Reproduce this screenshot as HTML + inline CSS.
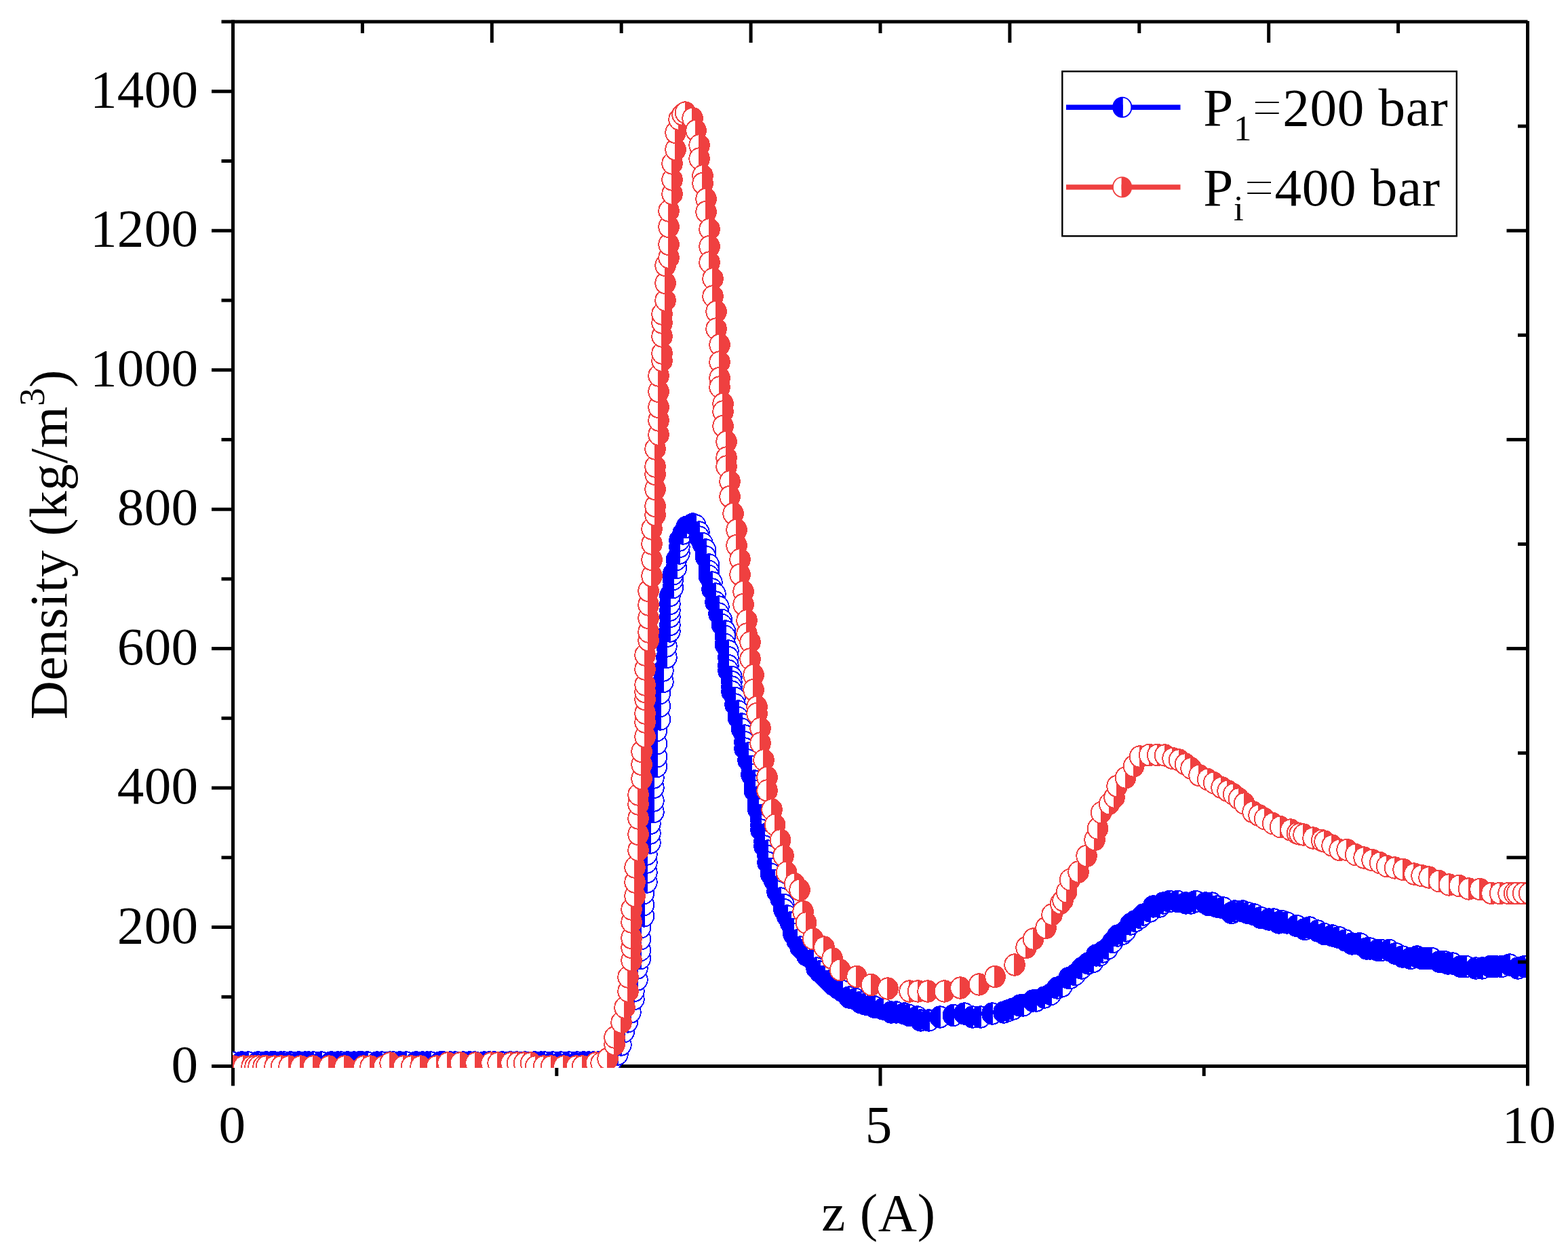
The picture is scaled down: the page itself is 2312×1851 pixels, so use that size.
<!DOCTYPE html>
<html lang="en"><head><meta charset="utf-8"><title>Density profile</title>
<style>
html,body{margin:0;padding:0;background:#fff;}
body{width:2312px;height:1851px;overflow:hidden;}
svg{display:block;}
text{font-family:"Liberation Serif",serif;fill:#000;}
</style></head><body>
<svg width="2312" height="1851" viewBox="0 0 2312 1851">
<defs>
<clipPath id="clip"><rect x="343" y="0" width="1907" height="1575"/></clipPath>
<g id="mr"><path d="M0,-14.66 A13.75,14.7 0 0 0 0,14.66 Z" fill="#fff"/><path fill="#ef4040" fill-rule="evenodd" d="M-14.7,0 a15.75,16.7 0 1 0 31.5,0 a15.75,16.7 0 1 0 -31.5,0 Z M0,-14.66 A13.75,14.7 0 0 0 0,14.66 Z"/></g>
<g id="mb"><path d="M0,-14.66 A13.75,14.7 0 0 1 0,14.66 Z" fill="#fff"/><path fill="#0000ff" fill-rule="evenodd" d="M-16.8,0 a15.75,16.7 0 1 0 31.5,0 a15.75,16.7 0 1 0 -31.5,0 Z M0,-14.66 A13.75,14.7 0 0 1 0,14.66 Z"/></g>
</defs>
<rect width="2312" height="1851" fill="#fff"/>

<g stroke="#000" stroke-width="5" fill="none" stroke-linecap="butt">
<line x1="343.5" y1="29.5" x2="343.5" y2="1601.6"/>
<line x1="312.0" y1="1572.6" x2="2252.5" y2="1572.6"/>
<line x1="326.5" y1="1470.3" x2="343.5" y2="1470.3"/>
<line x1="312.0" y1="1367.5" x2="343.5" y2="1367.5"/>
<line x1="326.5" y1="1264.8" x2="343.5" y2="1264.8"/>
<line x1="312.0" y1="1162.1" x2="343.5" y2="1162.1"/>
<line x1="326.5" y1="1059.3" x2="343.5" y2="1059.3"/>
<line x1="312.0" y1="956.6" x2="343.5" y2="956.6"/>
<line x1="326.5" y1="853.9" x2="343.5" y2="853.9"/>
<line x1="312.0" y1="751.2" x2="343.5" y2="751.2"/>
<line x1="326.5" y1="648.4" x2="343.5" y2="648.4"/>
<line x1="312.0" y1="545.7" x2="343.5" y2="545.7"/>
<line x1="326.5" y1="443.0" x2="343.5" y2="443.0"/>
<line x1="312.0" y1="340.2" x2="343.5" y2="340.2"/>
<line x1="326.5" y1="237.5" x2="343.5" y2="237.5"/>
<line x1="312.0" y1="134.8" x2="343.5" y2="134.8"/>
<line x1="820.8" y1="1572.6" x2="820.8" y2="1587.1"/>
<line x1="1298.0" y1="1572.6" x2="1298.0" y2="1601.6"/>
<line x1="1775.2" y1="1572.6" x2="1775.2" y2="1587.1"/>
</g>
<g font-size="79.17" text-anchor="end">
<text x="292.5" y="1596.2" letter-spacing="0.3">0</text>
<text x="292.5" y="1390.7" letter-spacing="0.3">200</text>
<text x="292.5" y="1185.3" letter-spacing="0.3">400</text>
<text x="292.5" y="979.8" letter-spacing="0.3">600</text>
<text x="292.5" y="774.4" letter-spacing="0.3">800</text>
<text x="292.5" y="568.9" letter-spacing="0.3">1000</text>
<text x="292.5" y="363.4" letter-spacing="0.3">1200</text>
<text x="292.5" y="158.0" letter-spacing="0.3">1400</text>
</g>
<g font-size="79.17" text-anchor="middle">
<text x="342.2" y="1684.8">0</text>
<text x="1295.6" y="1684.8">5</text>
<text x="2254.4" y="1684.8">10</text>
</g>
<text font-size="79.17" text-anchor="middle" x="1295.6" y="1815" letter-spacing="0.8">z (A)</text>
<text font-size="79.17" text-anchor="middle" letter-spacing="0.55" transform="translate(98.3,803) rotate(-90)">Density (kg/m<tspan font-size="53" dy="-33">3</tspan><tspan dy="33">)</tspan></text>
<g clip-path="url(#clip)" shape-rendering="crispEdges">
<use href="#mb" x="343" y="1567"/>
<use href="#mb" x="357.5" y="1567"/>
<use href="#mb" x="367" y="1567"/>
<use href="#mb" x="381.5" y="1567"/>
<use href="#mb" x="393.5" y="1567"/>
<use href="#mb" x="401" y="1567"/>
<use href="#mb" x="405.5" y="1567"/>
<use href="#mb" x="415" y="1567"/>
<use href="#mb" x="420" y="1567"/>
<use href="#mb" x="429.5" y="1567"/>
<use href="#mb" x="441.5" y="1567"/>
<use href="#mb" x="451" y="1567"/>
<use href="#mb" x="456" y="1567"/>
<use href="#mb" x="463" y="1567"/>
<use href="#mb" x="475" y="1567"/>
<use href="#mb" x="489.5" y="1567"/>
<use href="#mb" x="499" y="1567"/>
<use href="#mb" x="504" y="1567"/>
<use href="#mb" x="513.5" y="1567"/>
<use href="#mb" x="523" y="1567"/>
<use href="#mb" x="530.5" y="1567"/>
<use href="#mb" x="535" y="1567"/>
<use href="#mb" x="542.5" y="1567"/>
<use href="#mb" x="557" y="1567"/>
<use href="#mb" x="564" y="1567"/>
<use href="#mb" x="576" y="1567"/>
<use href="#mb" x="581" y="1567"/>
<use href="#mb" x="590.5" y="1567"/>
<use href="#mb" x="600" y="1567"/>
<use href="#mb" x="614.5" y="1567"/>
<use href="#mb" x="624" y="1567"/>
<use href="#mb" x="631" y="1567"/>
<use href="#mb" x="636" y="1567"/>
<use href="#mb" x="650.5" y="1567"/>
<use href="#mb" x="655" y="1567"/>
<use href="#mb" x="665" y="1567"/>
<use href="#mb" x="672" y="1567"/>
<use href="#mb" x="684" y="1567"/>
<use href="#mb" x="693.5" y="1567"/>
<use href="#mb" x="701" y="1567"/>
<use href="#mb" x="715" y="1567"/>
<use href="#mb" x="722.5" y="1567"/>
<use href="#mb" x="729.5" y="1567"/>
<use href="#mb" x="741.5" y="1567"/>
<use href="#mb" x="753.5" y="1567"/>
<use href="#mb" x="763" y="1567"/>
<use href="#mb" x="775" y="1567"/>
<use href="#mb" x="789.5" y="1567"/>
<use href="#mb" x="799" y="1567"/>
<use href="#mb" x="804" y="1567"/>
<use href="#mb" x="816" y="1567"/>
<use href="#mb" x="828" y="1567"/>
<use href="#mb" x="840" y="1567"/>
<use href="#mb" x="852" y="1567"/>
<use href="#mb" x="861.5" y="1567"/>
<use href="#mb" x="869" y="1567"/>
<use href="#mb" x="876" y="1567"/>
<use href="#mb" x="883" y="1567"/>
<use href="#mb" x="893" y="1567"/>
<use href="#mb" x="902.5" y="1565"/>
<use href="#mb" x="912" y="1555"/>
<use href="#mb" x="917" y="1541"/>
<use href="#mb" x="921.5" y="1521.5"/>
<use href="#mb" x="926.5" y="1507"/>
<use href="#mb" x="931" y="1493"/>
<use href="#mb" x="936" y="1473.5"/>
<use href="#mb" x="936" y="1461.5"/>
<use href="#mb" x="941" y="1445"/>
<use href="#mb" x="941" y="1428"/>
<use href="#mb" x="945.5" y="1413.5"/>
<use href="#mb" x="945.5" y="1401.5"/>
<use href="#mb" x="945.5" y="1385"/>
<use href="#mb" x="945.5" y="1368"/>
<use href="#mb" x="950.5" y="1351"/>
<use href="#mb" x="950.5" y="1334.5"/>
<use href="#mb" x="950.5" y="1317.5"/>
<use href="#mb" x="955" y="1301"/>
<use href="#mb" x="955" y="1286.5"/>
<use href="#mb" x="955" y="1272"/>
<use href="#mb" x="955" y="1260"/>
<use href="#mb" x="960" y="1243"/>
<use href="#mb" x="960" y="1229"/>
<use href="#mb" x="960" y="1214.5"/>
<use href="#mb" x="965" y="1197.5"/>
<use href="#mb" x="965" y="1181"/>
<use href="#mb" x="965" y="1161.5"/>
<use href="#mb" x="965" y="1147"/>
<use href="#mb" x="969.5" y="1130.5"/>
<use href="#mb" x="969.5" y="1116"/>
<use href="#mb" x="969.5" y="1097"/>
<use href="#mb" x="969.5" y="1077.5"/>
<use href="#mb" x="974.5" y="1061"/>
<use href="#mb" x="974.5" y="1041.5"/>
<use href="#mb" x="974.5" y="1022.5"/>
<use href="#mb" x="979" y="1005.5"/>
<use href="#mb" x="979" y="989"/>
<use href="#mb" x="984" y="969.5"/>
<use href="#mb" x="984" y="953"/>
<use href="#mb" x="984" y="938.5"/>
<use href="#mb" x="989" y="931"/>
<use href="#mb" x="989" y="921.5"/>
<use href="#mb" x="989" y="909.5"/>
<use href="#mb" x="989" y="900"/>
<use href="#mb" x="989" y="890.5"/>
<use href="#mb" x="989" y="878.5"/>
<use href="#mb" x="993.5" y="866.5"/>
<use href="#mb" x="993.5" y="854.5"/>
<use href="#mb" x="993.5" y="847"/>
<use href="#mb" x="998.5" y="837.5"/>
<use href="#mb" x="998.5" y="825.5"/>
<use href="#mb" x="1003" y="816"/>
<use href="#mb" x="1003" y="806.5"/>
<use href="#mb" x="1003" y="797"/>
<use href="#mb" x="1008" y="787"/>
<use href="#mb" x="1013" y="777.5"/>
<use href="#mb" x="1022.5" y="773"/>
<use href="#mb" x="1027" y="775"/>
<use href="#mb" x="1032" y="785"/>
<use href="#mb" x="1032" y="792"/>
<use href="#mb" x="1037" y="801.5"/>
<use href="#mb" x="1041.5" y="811"/>
<use href="#mb" x="1041.5" y="821"/>
<use href="#mb" x="1046.5" y="833"/>
<use href="#mb" x="1046.5" y="842.5"/>
<use href="#mb" x="1046.5" y="849.5"/>
<use href="#mb" x="1051" y="859"/>
<use href="#mb" x="1051" y="869"/>
<use href="#mb" x="1056" y="876"/>
<use href="#mb" x="1056" y="888"/>
<use href="#mb" x="1061" y="895"/>
<use href="#mb" x="1061" y="905"/>
<use href="#mb" x="1065.5" y="914.5"/>
<use href="#mb" x="1065.5" y="921.5"/>
<use href="#mb" x="1070.5" y="931"/>
<use href="#mb" x="1070.5" y="938.5"/>
<use href="#mb" x="1070.5" y="950.5"/>
<use href="#mb" x="1075" y="960"/>
<use href="#mb" x="1075" y="969.5"/>
<use href="#mb" x="1075" y="981.5"/>
<use href="#mb" x="1075" y="989"/>
<use href="#mb" x="1080" y="998.5"/>
<use href="#mb" x="1080" y="1005.5"/>
<use href="#mb" x="1080" y="1013"/>
<use href="#mb" x="1080" y="1020"/>
<use href="#mb" x="1085" y="1029.5"/>
<use href="#mb" x="1085" y="1039"/>
<use href="#mb" x="1089.5" y="1049"/>
<use href="#mb" x="1089.5" y="1058.5"/>
<use href="#mb" x="1094.5" y="1068"/>
<use href="#mb" x="1094.5" y="1075"/>
<use href="#mb" x="1099" y="1085"/>
<use href="#mb" x="1099" y="1094.5"/>
<use href="#mb" x="1099" y="1104"/>
<use href="#mb" x="1104" y="1111"/>
<use href="#mb" x="1104" y="1121"/>
<use href="#mb" x="1109" y="1130.5"/>
<use href="#mb" x="1109" y="1142.5"/>
<use href="#mb" x="1113.5" y="1152"/>
<use href="#mb" x="1113.5" y="1159"/>
<use href="#mb" x="1113.5" y="1166.5"/>
<use href="#mb" x="1118.5" y="1176"/>
<use href="#mb" x="1118.5" y="1185.5"/>
<use href="#mb" x="1118.5" y="1193"/>
<use href="#mb" x="1123" y="1202.5"/>
<use href="#mb" x="1123" y="1209.5"/>
<use href="#mb" x="1123" y="1217"/>
<use href="#mb" x="1123" y="1224"/>
<use href="#mb" x="1128" y="1231"/>
<use href="#mb" x="1128" y="1241"/>
<use href="#mb" x="1128" y="1248"/>
<use href="#mb" x="1133" y="1255"/>
<use href="#mb" x="1133" y="1262.5"/>
<use href="#mb" x="1133" y="1272"/>
<use href="#mb" x="1137.5" y="1281.5"/>
<use href="#mb" x="1137.5" y="1289"/>
<use href="#mb" x="1142.5" y="1298.5"/>
<use href="#mb" x="1147" y="1308"/>
<use href="#mb" x="1147" y="1315"/>
<use href="#mb" x="1152" y="1325"/>
<use href="#mb" x="1157" y="1334.5"/>
<use href="#mb" x="1157" y="1341.5"/>
<use href="#mb" x="1161.5" y="1351"/>
<use href="#mb" x="1166.5" y="1361"/>
<use href="#mb" x="1171" y="1370.5"/>
<use href="#mb" x="1171" y="1377.5"/>
<use href="#mb" x="1176" y="1387"/>
<use href="#mb" x="1181" y="1397"/>
<use href="#mb" x="1185.5" y="1401.5"/>
<use href="#mb" x="1190.5" y="1409"/>
<use href="#mb" x="1200" y="1416"/>
<use href="#mb" x="1205" y="1428"/>
<use href="#mb" x="1209.5" y="1433"/>
<use href="#mb" x="1217" y="1440"/>
<use href="#mb" x="1224" y="1447"/>
<use href="#mb" x="1229" y="1452"/>
<use href="#mb" x="1236" y="1457"/>
<use href="#mb" x="1243" y="1461.5"/>
<use href="#mb" x="1253" y="1471"/>
<use href="#mb" x="1262.5" y="1473.5"/>
<use href="#mb" x="1269.5" y="1478.5"/>
<use href="#mb" x="1277" y="1481"/>
<use href="#mb" x="1286.5" y="1483"/>
<use href="#mb" x="1291" y="1485.5"/>
<use href="#mb" x="1303" y="1488"/>
<use href="#mb" x="1315" y="1493"/>
<use href="#mb" x="1322.5" y="1493"/>
<use href="#mb" x="1334.5" y="1495"/>
<use href="#mb" x="1341.5" y="1497.5"/>
<use href="#mb" x="1353.5" y="1500"/>
<use href="#mb" x="1358.5" y="1505"/>
<use href="#mb" x="1370.5" y="1505"/>
<use href="#mb" x="1387" y="1500"/>
<use href="#mb" x="1406.5" y="1497.5"/>
<use href="#mb" x="1423" y="1495"/>
<use href="#mb" x="1435" y="1500"/>
<use href="#mb" x="1447" y="1500"/>
<use href="#mb" x="1464" y="1495"/>
<use href="#mb" x="1481" y="1493"/>
<use href="#mb" x="1488" y="1490.5"/>
<use href="#mb" x="1495" y="1488"/>
<use href="#mb" x="1505" y="1483"/>
<use href="#mb" x="1509.5" y="1483"/>
<use href="#mb" x="1524" y="1476"/>
<use href="#mb" x="1529" y="1476"/>
<use href="#mb" x="1541" y="1471"/>
<use href="#mb" x="1550.5" y="1466.5"/>
<use href="#mb" x="1560" y="1457"/>
<use href="#mb" x="1567" y="1454.5"/>
<use href="#mb" x="1577" y="1442.5"/>
<use href="#mb" x="1579" y="1442.5"/>
<use href="#mb" x="1586.5" y="1437.5"/>
<use href="#mb" x="1596" y="1428"/>
<use href="#mb" x="1605.5" y="1421"/>
<use href="#mb" x="1613" y="1418.5"/>
<use href="#mb" x="1617.5" y="1409"/>
<use href="#mb" x="1622.5" y="1409"/>
<use href="#mb" x="1627" y="1404"/>
<use href="#mb" x="1634.5" y="1399"/>
<use href="#mb" x="1641.5" y="1389.5"/>
<use href="#mb" x="1649" y="1380"/>
<use href="#mb" x="1656" y="1377.5"/>
<use href="#mb" x="1661" y="1373"/>
<use href="#mb" x="1668" y="1363"/>
<use href="#mb" x="1675" y="1358.5"/>
<use href="#mb" x="1682.5" y="1353.5"/>
<use href="#mb" x="1687" y="1349"/>
<use href="#mb" x="1697" y="1344"/>
<use href="#mb" x="1701.5" y="1337"/>
<use href="#mb" x="1711" y="1337"/>
<use href="#mb" x="1716" y="1332"/>
<use href="#mb" x="1725.5" y="1329.5"/>
<use href="#mb" x="1737.5" y="1329.5"/>
<use href="#mb" x="1749.5" y="1332"/>
<use href="#mb" x="1757" y="1332"/>
<use href="#mb" x="1764" y="1329.5"/>
<use href="#mb" x="1778.5" y="1332"/>
<use href="#mb" x="1783" y="1334.5"/>
<use href="#mb" x="1788" y="1332"/>
<use href="#mb" x="1795" y="1337"/>
<use href="#mb" x="1805" y="1339"/>
<use href="#mb" x="1817" y="1346.5"/>
<use href="#mb" x="1821.5" y="1344"/>
<use href="#mb" x="1833.5" y="1344"/>
<use href="#mb" x="1841" y="1346.5"/>
<use href="#mb" x="1850.5" y="1349"/>
<use href="#mb" x="1860" y="1353.5"/>
<use href="#mb" x="1872" y="1356"/>
<use href="#mb" x="1879" y="1356"/>
<use href="#mb" x="1886.5" y="1361"/>
<use href="#mb" x="1891" y="1358.5"/>
<use href="#mb" x="1898.5" y="1361"/>
<use href="#mb" x="1913" y="1365.5"/>
<use href="#mb" x="1925" y="1370.5"/>
<use href="#mb" x="1932" y="1368"/>
<use href="#mb" x="1944" y="1373"/>
<use href="#mb" x="1953.5" y="1377.5"/>
<use href="#mb" x="1965.5" y="1380"/>
<use href="#mb" x="1975" y="1382.5"/>
<use href="#mb" x="1985" y="1387"/>
<use href="#mb" x="1994.5" y="1392"/>
<use href="#mb" x="2004" y="1392"/>
<use href="#mb" x="2006.5" y="1392"/>
<use href="#mb" x="2016" y="1399"/>
<use href="#mb" x="2021" y="1399"/>
<use href="#mb" x="2033" y="1401.5"/>
<use href="#mb" x="2037.5" y="1401.5"/>
<use href="#mb" x="2049.5" y="1401.5"/>
<use href="#mb" x="2059" y="1406.5"/>
<use href="#mb" x="2069" y="1411"/>
<use href="#mb" x="2081" y="1413.5"/>
<use href="#mb" x="2090.5" y="1411"/>
<use href="#mb" x="2097.5" y="1413.5"/>
<use href="#mb" x="2105" y="1413.5"/>
<use href="#mb" x="2112" y="1413.5"/>
<use href="#mb" x="2124" y="1418.5"/>
<use href="#mb" x="2131" y="1418.5"/>
<use href="#mb" x="2136" y="1421"/>
<use href="#mb" x="2143" y="1421"/>
<use href="#mb" x="2155" y="1425.5"/>
<use href="#mb" x="2162.5" y="1425.5"/>
<use href="#mb" x="2177" y="1428"/>
<use href="#mb" x="2186.5" y="1428"/>
<use href="#mb" x="2198.5" y="1425.5"/>
<use href="#mb" x="2205.5" y="1425.5"/>
<use href="#mb" x="2215" y="1425.5"/>
<use href="#mb" x="2227" y="1423"/>
<use href="#mb" x="2239" y="1428"/>
<use href="#mb" x="2249" y="1425.5"/>
<use href="#mb" x="2258.5" y="1428"/>
<use href="#mr" x="342.5" y="1573"/>
<use href="#mr" x="358" y="1573"/>
<use href="#mr" x="370" y="1573"/>
<use href="#mr" x="375" y="1573"/>
<use href="#mr" x="380" y="1573"/>
<use href="#mr" x="387" y="1573"/>
<use href="#mr" x="391.5" y="1573"/>
<use href="#mr" x="404" y="1573"/>
<use href="#mr" x="413.5" y="1573"/>
<use href="#mr" x="425" y="1573"/>
<use href="#mr" x="442" y="1573"/>
<use href="#mr" x="460.5" y="1573"/>
<use href="#mr" x="484" y="1573"/>
<use href="#mr" x="507" y="1573"/>
<use href="#mr" x="535" y="1573"/>
<use href="#mr" x="545" y="1573"/>
<use href="#mr" x="564.5" y="1573"/>
<use href="#mr" x="574" y="1568"/>
<use href="#mr" x="593.5" y="1573"/>
<use href="#mr" x="605.5" y="1573"/>
<use href="#mr" x="619" y="1573"/>
<use href="#mr" x="642.5" y="1573"/>
<use href="#mr" x="659" y="1568"/>
<use href="#mr" x="677.5" y="1568"/>
<use href="#mr" x="700" y="1568"/>
<use href="#mr" x="723" y="1568"/>
<use href="#mr" x="733" y="1568"/>
<use href="#mr" x="752" y="1568"/>
<use href="#mr" x="761.5" y="1568"/>
<use href="#mr" x="771.5" y="1568"/>
<use href="#mr" x="781.5" y="1568"/>
<use href="#mr" x="788.5" y="1573"/>
<use href="#mr" x="800.5" y="1573"/>
<use href="#mr" x="811.5" y="1573"/>
<use href="#mr" x="830" y="1573"/>
<use href="#mr" x="848.5" y="1573"/>
<use href="#mr" x="857.5" y="1573"/>
<use href="#mr" x="877.5" y="1568"/>
<use href="#mr" x="885" y="1568"/>
<use href="#mr" x="895" y="1561.5"/>
<use href="#mr" x="905" y="1540.5"/>
<use href="#mr" x="905" y="1530"/>
<use href="#mr" x="915" y="1508"/>
<use href="#mr" x="920" y="1486"/>
<use href="#mr" x="925" y="1462"/>
<use href="#mr" x="925" y="1441"/>
<use href="#mr" x="930" y="1416.5"/>
<use href="#mr" x="930" y="1397.5"/>
<use href="#mr" x="930" y="1383.5"/>
<use href="#mr" x="930" y="1360"/>
<use href="#mr" x="930" y="1341"/>
<use href="#mr" x="935" y="1321.5"/>
<use href="#mr" x="935" y="1301"/>
<use href="#mr" x="935" y="1279"/>
<use href="#mr" x="940" y="1254"/>
<use href="#mr" x="940" y="1230.5"/>
<use href="#mr" x="940" y="1207"/>
<use href="#mr" x="940" y="1186"/>
<use href="#mr" x="940" y="1172"/>
<use href="#mr" x="945" y="1148.5"/>
<use href="#mr" x="945" y="1127.5"/>
<use href="#mr" x="945" y="1108.5"/>
<use href="#mr" x="950" y="1086.5"/>
<use href="#mr" x="950" y="1065"/>
<use href="#mr" x="950" y="1052"/>
<use href="#mr" x="950" y="1031.5"/>
<use href="#mr" x="950" y="1020.5"/>
<use href="#mr" x="950" y="1010"/>
<use href="#mr" x="950" y="987"/>
<use href="#mr" x="950" y="966"/>
<use href="#mr" x="955" y="944.5"/>
<use href="#mr" x="955" y="932"/>
<use href="#mr" x="955" y="911.5"/>
<use href="#mr" x="955" y="892"/>
<use href="#mr" x="955" y="871.5"/>
<use href="#mr" x="960" y="849.5"/>
<use href="#mr" x="960" y="825.5"/>
<use href="#mr" x="960" y="802"/>
<use href="#mr" x="960" y="780"/>
<use href="#mr" x="965" y="759.5"/>
<use href="#mr" x="965" y="746.5"/>
<use href="#mr" x="965" y="721.5"/>
<use href="#mr" x="965" y="699.5"/>
<use href="#mr" x="965" y="688"/>
<use href="#mr" x="965" y="662"/>
<use href="#mr" x="970" y="641"/>
<use href="#mr" x="970" y="620"/>
<use href="#mr" x="970" y="600.5"/>
<use href="#mr" x="970" y="577.5"/>
<use href="#mr" x="970" y="554"/>
<use href="#mr" x="975" y="532"/>
<use href="#mr" x="975" y="521"/>
<use href="#mr" x="975" y="496"/>
<use href="#mr" x="975" y="476"/>
<use href="#mr" x="975" y="463"/>
<use href="#mr" x="980" y="443"/>
<use href="#mr" x="980" y="417.5"/>
<use href="#mr" x="980" y="391.5"/>
<use href="#mr" x="985" y="380"/>
<use href="#mr" x="985" y="360.5"/>
<use href="#mr" x="985" y="334.5"/>
<use href="#mr" x="985" y="311"/>
<use href="#mr" x="990" y="286"/>
<use href="#mr" x="990" y="265"/>
<use href="#mr" x="990" y="241"/>
<use href="#mr" x="995" y="220.5"/>
<use href="#mr" x="995" y="195.5"/>
<use href="#mr" x="1000" y="176"/>
<use href="#mr" x="1005" y="169"/>
<use href="#mr" x="1009.5" y="166"/>
<use href="#mr" x="1020" y="174.5"/>
<use href="#mr" x="1025" y="192.5"/>
<use href="#mr" x="1030" y="214"/>
<use href="#mr" x="1030" y="234"/>
<use href="#mr" x="1035" y="259"/>
<use href="#mr" x="1035" y="270.5"/>
<use href="#mr" x="1040" y="293.5"/>
<use href="#mr" x="1040" y="312.5"/>
<use href="#mr" x="1045" y="338"/>
<use href="#mr" x="1045" y="363.5"/>
<use href="#mr" x="1045" y="387"/>
<use href="#mr" x="1050" y="411"/>
<use href="#mr" x="1050" y="437"/>
<use href="#mr" x="1055" y="459.5"/>
<use href="#mr" x="1055" y="485"/>
<use href="#mr" x="1060" y="508.5"/>
<use href="#mr" x="1060" y="534"/>
<use href="#mr" x="1060" y="557.5"/>
<use href="#mr" x="1060" y="571"/>
<use href="#mr" x="1065" y="595.5"/>
<use href="#mr" x="1065" y="607"/>
<use href="#mr" x="1065" y="628.5"/>
<use href="#mr" x="1070" y="651.5"/>
<use href="#mr" x="1070" y="675"/>
<use href="#mr" x="1070" y="688"/>
<use href="#mr" x="1075" y="710"/>
<use href="#mr" x="1075" y="732.5"/>
<use href="#mr" x="1080" y="757.5"/>
<use href="#mr" x="1085" y="781.5"/>
<use href="#mr" x="1085" y="804.5"/>
<use href="#mr" x="1090" y="825"/>
<use href="#mr" x="1090" y="847.5"/>
<use href="#mr" x="1095" y="872.5"/>
<use href="#mr" x="1095" y="891.5"/>
<use href="#mr" x="1100" y="915"/>
<use href="#mr" x="1100" y="935"/>
<use href="#mr" x="1105" y="947"/>
<use href="#mr" x="1105" y="972"/>
<use href="#mr" x="1110" y="995.5"/>
<use href="#mr" x="1110" y="1017.5"/>
<use href="#mr" x="1115" y="1042.5"/>
<use href="#mr" x="1115" y="1052.5"/>
<use href="#mr" x="1120" y="1074"/>
<use href="#mr" x="1120" y="1096"/>
<use href="#mr" x="1125" y="1121"/>
<use href="#mr" x="1130" y="1146.5"/>
<use href="#mr" x="1130" y="1166"/>
<use href="#mr" x="1137" y="1194"/>
<use href="#mr" x="1141.5" y="1216.5"/>
<use href="#mr" x="1149.5" y="1239"/>
<use href="#mr" x="1154" y="1262"/>
<use href="#mr" x="1158.5" y="1286.5"/>
<use href="#mr" x="1170.5" y="1303.5"/>
<use href="#mr" x="1178" y="1312.5"/>
<use href="#mr" x="1183" y="1344.5"/>
<use href="#mr" x="1187.5" y="1361"/>
<use href="#mr" x="1197.5" y="1384.5"/>
<use href="#mr" x="1214" y="1397"/>
<use href="#mr" x="1226" y="1413.5"/>
<use href="#mr" x="1237.5" y="1430.5"/>
<use href="#mr" x="1262" y="1440.5"/>
<use href="#mr" x="1283.5" y="1452.5"/>
<use href="#mr" x="1308" y="1458"/>
<use href="#mr" x="1340" y="1462"/>
<use href="#mr" x="1352.5" y="1462"/>
<use href="#mr" x="1367" y="1462"/>
<use href="#mr" x="1391.5" y="1462"/>
<use href="#mr" x="1415" y="1457"/>
<use href="#mr" x="1442.5" y="1452"/>
<use href="#mr" x="1466" y="1440.5"/>
<use href="#mr" x="1495" y="1423"/>
<use href="#mr" x="1512" y="1397.5"/>
<use href="#mr" x="1522.5" y="1385"/>
<use href="#mr" x="1541" y="1368.5"/>
<use href="#mr" x="1550" y="1349"/>
<use href="#mr" x="1562.5" y="1332.5"/>
<use href="#mr" x="1566" y="1328"/>
<use href="#mr" x="1571.5" y="1315.5"/>
<use href="#mr" x="1576.5" y="1297.5"/>
<use href="#mr" x="1589" y="1286"/>
<use href="#mr" x="1601" y="1262.5"/>
<use href="#mr" x="1613" y="1238.5"/>
<use href="#mr" x="1617.5" y="1222"/>
<use href="#mr" x="1622.5" y="1198.5"/>
<use href="#mr" x="1634.5" y="1185.5"/>
<use href="#mr" x="1642" y="1176"/>
<use href="#mr" x="1646" y="1159.5"/>
<use href="#mr" x="1658.5" y="1147"/>
<use href="#mr" x="1670.5" y="1130"/>
<use href="#mr" x="1679.5" y="1116"/>
<use href="#mr" x="1693.5" y="1113.5"/>
<use href="#mr" x="1705.5" y="1113.5"/>
<use href="#mr" x="1716.5" y="1114"/>
<use href="#mr" x="1716.5" y="1114"/>
<use href="#mr" x="1728" y="1118.5"/>
<use href="#mr" x="1737.5" y="1121"/>
<use href="#mr" x="1746.5" y="1127"/>
<use href="#mr" x="1755" y="1133"/>
<use href="#mr" x="1767" y="1143.5"/>
<use href="#mr" x="1779.5" y="1149.5"/>
<use href="#mr" x="1788.5" y="1154.5"/>
<use href="#mr" x="1800" y="1161.5"/>
<use href="#mr" x="1809" y="1166.5"/>
<use href="#mr" x="1817.5" y="1171.5"/>
<use href="#mr" x="1825.5" y="1178"/>
<use href="#mr" x="1833.5" y="1185"/>
<use href="#mr" x="1846" y="1197.5"/>
<use href="#mr" x="1855" y="1202.5"/>
<use href="#mr" x="1863.5" y="1207.5"/>
<use href="#mr" x="1875.5" y="1214.5"/>
<use href="#mr" x="1886.5" y="1219.5"/>
<use href="#mr" x="1902" y="1224"/>
<use href="#mr" x="1911.5" y="1229"/>
<use href="#mr" x="1915" y="1230"/>
<use href="#mr" x="1921" y="1231"/>
<use href="#mr" x="1935" y="1236"/>
<use href="#mr" x="1947.5" y="1239.5"/>
<use href="#mr" x="1952" y="1241"/>
<use href="#mr" x="1963" y="1247"/>
<use href="#mr" x="1974" y="1253.5"/>
<use href="#mr" x="1985" y="1253.5"/>
<use href="#mr" x="1997.5" y="1260.5"/>
<use href="#mr" x="2010" y="1265"/>
<use href="#mr" x="2022" y="1268.5"/>
<use href="#mr" x="2033.5" y="1272.5"/>
<use href="#mr" x="2043.5" y="1277.5"/>
<use href="#mr" x="2055.5" y="1280"/>
<use href="#mr" x="2068" y="1282.5"/>
<use href="#mr" x="2084" y="1289"/>
<use href="#mr" x="2095" y="1291.5"/>
<use href="#mr" x="2106" y="1294"/>
<use href="#mr" x="2120.5" y="1299.5"/>
<use href="#mr" x="2135.5" y="1305"/>
<use href="#mr" x="2150.5" y="1306.5"/>
<use href="#mr" x="2164.5" y="1311"/>
<use href="#mr" x="2181" y="1311.5"/>
<use href="#mr" x="2198" y="1317.5"/>
<use href="#mr" x="2210.5" y="1317.5"/>
<use href="#mr" x="2223" y="1317.5"/>
<use href="#mr" x="2231.5" y="1317.5"/>
<use href="#mr" x="2235.5" y="1317.5"/>
<use href="#mr" x="2244.5" y="1317.5"/>
<use href="#mr" x="2253.5" y="1317.5"/>
<use href="#mr" x="2266" y="1317.5"/>
</g>
<g stroke="#000" stroke-width="5" fill="none" stroke-linecap="butt">
<line x1="2252.5" y1="31.0" x2="2252.5" y2="1601.6"/>
<line x1="326.5" y1="32.0" x2="2252.5" y2="32.0"/>
<line x1="2238.0" y1="1418.9" x2="2252.5" y2="1418.9"/>
<line x1="2221.5" y1="1264.8" x2="2252.5" y2="1264.8"/>
<line x1="2238.0" y1="1110.7" x2="2252.5" y2="1110.7"/>
<line x1="2221.5" y1="956.6" x2="2252.5" y2="956.6"/>
<line x1="2238.0" y1="802.5" x2="2252.5" y2="802.5"/>
<line x1="2221.5" y1="648.4" x2="2252.5" y2="648.4"/>
<line x1="2238.0" y1="494.3" x2="2252.5" y2="494.3"/>
<line x1="2221.5" y1="340.2" x2="2252.5" y2="340.2"/>
<line x1="2238.0" y1="186.1" x2="2252.5" y2="186.1"/>
<line x1="534.4" y1="32.0" x2="534.4" y2="49.0"/>
<line x1="725.3" y1="32.0" x2="725.3" y2="63.0"/>
<line x1="916.2" y1="32.0" x2="916.2" y2="49.0"/>
<line x1="1107.1" y1="32.0" x2="1107.1" y2="63.0"/>
<line x1="1298.0" y1="32.0" x2="1298.0" y2="49.0"/>
<line x1="1488.9" y1="32.0" x2="1488.9" y2="63.0"/>
<line x1="1679.8" y1="32.0" x2="1679.8" y2="49.0"/>
<line x1="1870.7" y1="32.0" x2="1870.7" y2="63.0"/>
<line x1="2061.6" y1="32.0" x2="2061.6" y2="49.0"/>
</g>
<rect x="1566.3" y="105.3" width="581.5" height="242.9" fill="#fff" stroke="#000" stroke-width="2.4"/>
<line x1="1572" y1="158.3" x2="1740.5" y2="158.3" stroke="#0000ff" stroke-width="7.5"/>
<use href="#mb" transform="translate(1655.8,158.2) scale(0.93)"/>
<line x1="1572" y1="276" x2="1740.5" y2="276" stroke="#ef4040" stroke-width="7.5"/>
<use href="#mr" transform="translate(1653.6,276) scale(0.93)"/>
<text font-size="79.17" x="1774.2" y="185.2" letter-spacing="0.65">P<tspan font-size="53" dy="21.5">1</tspan><tspan dy="-21.5" stroke="#fff" stroke-width="2">=</tspan>200 bar</text>
<text font-size="79.17" x="1774.2" y="303.2" letter-spacing="0.65">P<tspan font-size="53" dy="21.5">i</tspan><tspan dy="-21.5" stroke="#fff" stroke-width="2">=</tspan>400 bar</text>
</svg></body></html>
